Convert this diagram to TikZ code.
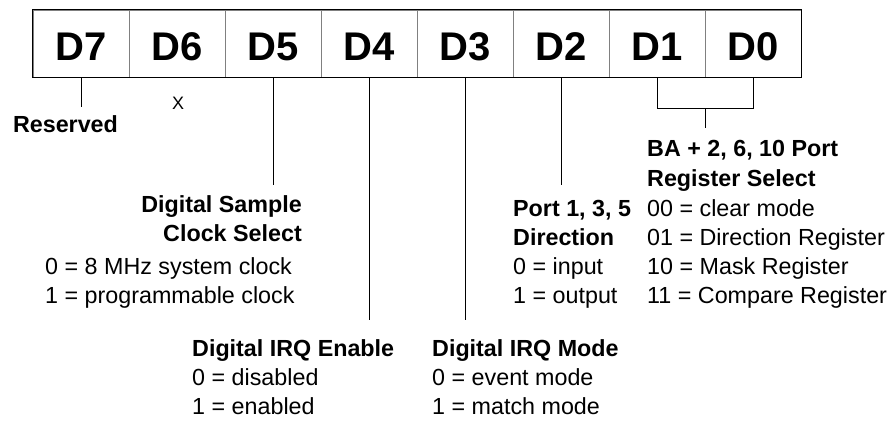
\documentclass[tikz,border=0pt]{standalone}
\usepackage{fontspec}
\setmainfont{Liberation Sans}

\begin{document}
\begin{tikzpicture}[x=1pt, y=-1pt,
    cell/.style={draw=gray, line width=0.8pt, minimum width=96pt, minimum height=67pt,
        inner sep=0pt, text height=35pt, text depth=0pt,
        font=\fontsize{40}{44}\selectfont\bfseries},
    lead/.style={black, line width=0.9pt},
    head/.style={inner sep=0pt, font=\fontsize{23.3}{28}\selectfont\bfseries},
    txt/.style={inner sep=0pt, font=\fontsize{23.3}{28}\selectfont}]

    % Page size
    \def\W{896}
    \def\H{422}
    \useasboundingbox (0,0) rectangle (\W,\H);

    % Register
    \def\xa{33}     % left edge of D7
    \def\w{96}      % cell width
    \def\ym{43.5}   % middle of the cells
    \def\dl{29}     % line spacing
    \foreach \i [count=\k from 0] in {7,...,0}{
        \node[cell] (d\i) at ({\xa+\k*\w+\w/2}, \ym) {D\i};
    }
    \draw[line width=1pt] (d7.north west) rectangle (d0.south east);

    % Leads
    \draw[lead] (d7.south) -- ++(0,30) coordinate (e7);
    \draw[lead] (d5.south) -- ++(0,108) coordinate (e5);
    \draw[lead] (d4.south) -- ++(0,243) coordinate (e4);
    \draw[lead] (d3.south) -- ++(0,243) coordinate (e3);
    \draw[lead] (d2.south) -- ++(0,108) coordinate (e2);
    \draw[lead] (d1.south) -- ++(0,31) coordinate (b1) -| (d0.south);
    \draw[lead] (d1.south east |- b1) -- ++(0,20) coordinate (e10);

    % D7, D6
    \node[head, anchor=base] (rsv) at (65.5,133) {Reserved};
    \node[inner sep=0pt, anchor=base, font=\fontsize{18}{20}\selectfont] (x6) at (178,110) {X};

    % D5
    \node[head, anchor=base east] (clk1) at (302,212) {Digital Sample};
    \node[head, anchor=base east] (clk2) at (302,{212+\dl}) {Clock Select};
    \node[txt, anchor=base west] (clk3) at (45,274) {0 = 8 MHz system clock};
    \node[txt, anchor=base west] (clk4) at (45,{274+\dl}) {1 = programmable clock};

    % D4
    \node[head, anchor=base west] (irqe) at (192,356) {Digital IRQ Enable};
    \foreach \t [count=\k] in {0 = disabled, 1 = enabled}{
        \node[txt, anchor=base west] (irqe\k) at (192,{356+\k*\dl}) {\t};
    }

    % D3
    \node[head, anchor=base west] (irqm) at (432,356) {Digital IRQ Mode};
    \foreach \t [count=\k] in {0 = event mode, 1 = match mode}{
        \node[txt, anchor=base west] (irqm\k) at (432,{356+\k*\dl}) {\t};
    }

    % D2
    \node[head, anchor=base west] (dir1) at (513,216) {Port 1, 3, 5};
    \node[head, anchor=base west] (dir2) at (513,{216+\dl}) {Direction};
    \node[txt, anchor=base west] (dir3) at (513,{216+2*\dl}) {0 = input};
    \node[txt, anchor=base west] (dir4) at (513,{216+3*\dl}) {1 = output};

    % D1, D0
    \node[head, anchor=base west] (rs1) at (647,157) {BA + 2, 6, 10 Port};
    \node[head, anchor=base west] (rs2) at (647,{157+\dl}) {Register Select};
    \foreach \t [count=\k from 0] in {00 = clear mode, 01 = Direction Register, 10 = Mask Register, 11 = Compare Register}{
        \node[txt, anchor=base west] (rsv\k) at (647,{216+\k*\dl}) {\t};
    }

\end{tikzpicture}
\end{document}
